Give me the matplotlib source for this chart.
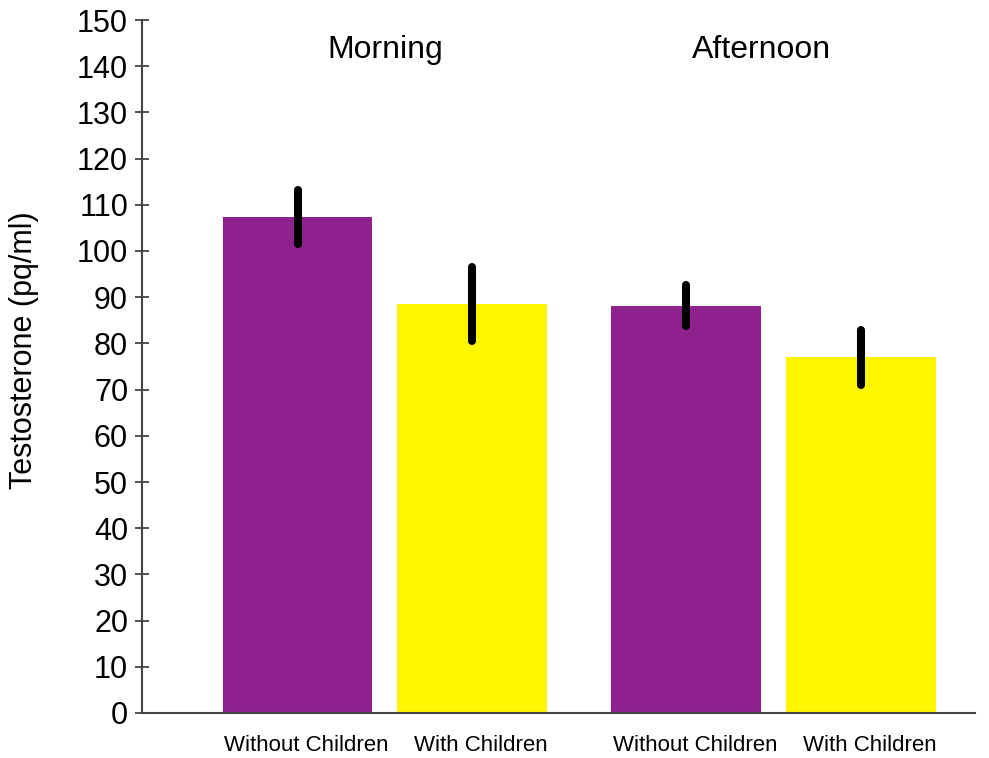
import matplotlib.pyplot as plt
from matplotlib.transforms import ScaledTranslation

plt.rcParams['font.family'] = ['Liberation Sans', 'DejaVu Sans']

groups = ['Morning', 'Afternoon']
conditions = ['Without Children', 'With Children']
means = [[107.3, 88.6], [88.2, 77.0]]
errors = [[5.8, 8.0], [4.4, 6.0]]
colors = ['#8f218f', '#fff700']

fig = plt.figure(figsize=(9.89, 7.58), dpi=100)
ax = fig.add_axes([142 / 989, 45 / 758, (975 - 142) / 989, 693 / 758])

group_step = 2.226  # distance between group starts, in bar units
bar_w = 0.857
shift = ScaledTranslation(0.09, 0, fig.dpi_scale_trans)
for g, name in enumerate(groups):
    xs = [g * group_step + i for i in range(len(conditions))]
    bars = ax.bar(xs, means[g], width=bar_w, color=colors, yerr=errors[g],
                  error_kw=dict(ecolor='black', elinewidth=5.8, capsize=0))
    bars.errorbar.lines[2][0].set_capstyle('round')
    ax.text(sum(xs) / len(xs) + (0.0 if g == 0 else -0.07), 143.6, name,
            ha='center', va='center', fontsize=23)
    # category labels under the bars, nudged right like the original
    for x, cond in zip(xs, conditions):
        ax.text(x, -0.047, cond, ha='center', va='center', fontsize=16,
                transform=ax.get_xaxis_transform() + shift, clip_on=False)

ax.set_xticks([])
ax.set_xlim(-0.891, 3.88)
ax.set_ylim(0, 150)
ax.set_yticks(range(0, 151, 10))
ax.tick_params(axis='y', direction='inout', length=10, width=1.3, color='#444444',
               labelsize=22, pad=5)
ax.set_ylabel('Testosterone (pq/ml)', fontsize=22)
ax.yaxis.set_label_coords(-0.124, 0.524)

for side in ['top', 'right']:
    ax.spines[side].set_visible(False)
for side in ['left', 'bottom']:
    ax.spines[side].set_color('#444444')
    ax.spines[side].set_linewidth(1.5)

plt.savefig('out.png', dpi=100)
